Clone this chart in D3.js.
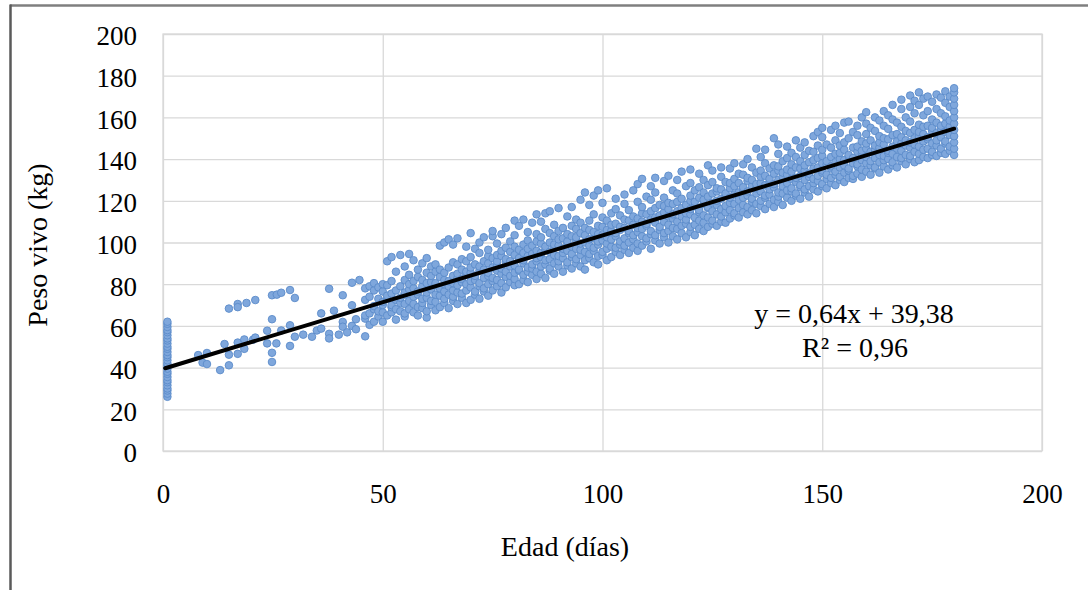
<!DOCTYPE html>
<html>
<head>
<meta charset="utf-8">
<script src="https://cdn.jsdelivr.net/npm/d3@7/dist/d3.min.js"></script>
<style>
    body { margin: 0; background: #fff; }
    svg { display: block; }
    text { font-family: "Liberation Serif", "Times New Roman", serif; fill: #000; }
</style>
</head>
<body>
<div id="chart"></div>
<script>
// Peso vivo vs edad — dispersión + tendencia lineal

const xTicks = [0, 50, 100, 150, 200];
const yTicks = [0, 20, 40, 60, 80, 100, 120, 140, 160, 180, 200];

// columna de animales al nacimiento (día 1)
const pesoDia1 = [26, 27.5, 29, 30, 31.5, 33, 34, 35.5, 37, 38, 39.5, 41, 42, 43.5, 45, 46, 47.5, 49, 50,
    51.5, 53, 54, 55.5, 57, 58, 59.5, 61, 62];

// puntos sueltos de 7 a 45 días [edad, peso]
const puntosIniciales = [
    [8, 46], [9, 42.4], [10, 47], [10, 41.7], [13, 38.8], [14, 51.3], [15, 68.3], [15, 46.2], [15, 41.1],
    [17, 70.5], [17, 69], [17, 52], [17, 46.6], [18.5, 53.5], [18.5, 49], [19, 71], [20.5, 53.4], [21, 72.4],
    [21, 54.4], [23.7, 57.7], [23.7, 51.6], [24.8, 74.7], [24.8, 63.2], [24.8, 47.1], [24.8, 42.7], [25.9, 75],
    [25.8, 51.6], [26.9, 75.9], [26.9, 57.8], [28.9, 77.2], [28.9, 60.3], [28.9, 50.4], [30, 73.4], [30, 54.8],
    [31.9, 55.8], [33.9, 54.8], [35, 57.8], [36, 66], [36, 58.7], [37.8, 77.8], [37.8, 56.2], [37.8, 54],
    [38.9, 67.3], [40, 55.8], [40.9, 74.7], [40.9, 61.9], [40.9, 59.6], [41.9, 56.9], [43, 80.7], [43, 69.9],
    [43, 60], [43.9, 63.2], [43.9, 58.4], [44.7, 82]
];

// 46 a 180 días: [edad, [pesos]]
const columnasDias = [
    [46, [55, 63.5, 65, 72.5, 78]],
    [47, [60.5, 66, 74, 79]],
    [48, [62, 68, 69.5, 77, 80.5]],
    [49, [64.5, 67, 73, 78.5]],
    [50, [62, 66.5, 70, 71.5, 76.5, 80]],
    [51, [65, 73, 74.5, 79.5, 91]],
    [52, [66.5, 69, 70, 75.5, 81.5, 93]],
    [53, [63, 68, 72.5, 77, 86]],
    [54, [67, 71, 73.5, 79, 94]],
    [55, [64.5, 66, 70.5, 75, 76, 82, 88.5]],
    [56, [68, 72, 77.5, 80, 84.5, 94.5]],
    [57, [66.5, 70.5, 74, 78, 81.5, 91.5]],
    [58, [65, 69, 75, 76.5, 83.5, 87]],
    [59, [68.5, 71, 73, 79, 82, 90]],
    [60, [64, 67, 73.5, 76, 80.5, 85.5, 92.5]],
    [61, [70, 72, 77.5, 81, 84, 88.5]],
    [62, [67.5, 71.5, 75, 79.5, 80.5, 86, 89.5]],
    [63, [69, 74.5, 78, 83.5, 87, 98.5]],
    [64, [71, 73, 76.5, 80, 82, 85.5, 100]],
    [65, [68.5, 75, 79, 81.5, 88, 101.5]],
    [66, [72, 74, 77, 80.5, 84, 90.5, 99]],
    [67, [70.5, 76, 79.5, 83, 85, 89.5, 102]],
    [68, [73.5, 75.5, 81, 82.5, 87, 92]],
    [69, [71, 77, 80, 84.5, 86, 91, 98]],
    [70, [72.5, 78.5, 81.5, 85.5, 88, 93, 104.5]],
    [71, [75, 76.5, 82, 84, 89.5, 97]],
    [72, [73, 79, 80.5, 86.5, 88.5, 95, 100]],
    [73, [76.5, 78, 83, 87, 91, 102.5]],
    [74, [74.5, 80, 84, 85.5, 90, 93.5, 96.5]],
    [75, [77, 81.5, 83, 88, 92.5, 103, 105.5]],
    [76, [79, 82, 86.5, 89, 91, 94, 99.5]],
    [77, [76, 80.5, 85, 87.5, 93.5, 96, 104]],
    [78, [78.5, 83.5, 86, 90.5, 92, 97.5, 107]],
    [79, [81, 84, 88.5, 91, 95.5, 100.5]],
    [80, [79.5, 82.5, 85.5, 89, 94, 98, 103.5, 110.5]],
    [81, [80, 86.5, 87, 92.5, 96.5, 108]],
    [82, [82, 84.5, 90, 91.5, 95, 99, 111]],
    [83, [81, 86, 88, 93.5, 97, 101, 105]],
    [84, [84.5, 87.5, 89.5, 94.5, 98.5, 109.5]],
    [85, [82.5, 86, 91, 92.5, 96, 100.5, 104, 113.5]],
    [86, [85, 88.5, 93, 95, 99.5, 102.5, 110]],
    [87, [83, 89.5, 91.5, 96.5, 98, 106.5, 114]],
    [88, [86.5, 87.5, 92, 95.5, 100, 104.5, 115]],
    [89, [85, 90, 94, 97.5, 99, 103, 108.5]],
    [90, [88.5, 91, 93.5, 98.5, 101.5, 105.5, 116.5]],
    [91, [86, 92.5, 95, 97, 102, 107]],
    [92, [89, 90.5, 96, 99.5, 100.5, 104, 112.5]],
    [93, [87.5, 93, 94.5, 98, 103, 108, 117]],
    [94, [90, 92, 97, 101, 102.5, 106.5, 111]],
    [95, [88.5, 94, 96.5, 99.5, 104.5, 109.5, 120.5]],
    [96, [87, 91.5, 95.5, 100, 103.5, 107, 124]],
    [97, [92.5, 94.5, 98.5, 101.5, 106, 110.5, 118]],
    [98, [90.5, 96, 97.5, 102, 105, 113.5, 122.5]],
    [99, [89.5, 93.5, 99, 100.5, 104, 108, 125]],
    [100, [94, 95.5, 101, 103.5, 107.5, 112, 119]],
    [101, [91.5, 97, 99.5, 102.5, 106, 110.5, 126]],
    [102, [93, 98, 101.5, 105.5, 108.5, 114]],
    [103, [95.5, 97.5, 103, 104.5, 109, 116, 121]],
    [104, [94, 99, 100.5, 106, 107.5, 113]],
    [105, [96.5, 98.5, 102, 107, 111, 118.5, 123]],
    [106, [95, 100, 104.5, 105.5, 110.5, 115.5]],
    [107, [97.5, 101.5, 103.5, 108.5, 112.5, 125]],
    [108, [96, 99.5, 105, 107, 111.5, 119.5, 128]],
    [109, [98.5, 103, 106.5, 110, 114, 117, 130.5]],
    [110, [100.5, 102, 108, 109, 113.5, 122]],
    [111, [97, 104, 105.5, 111, 115, 120.5, 127]],
    [112, [101, 103.5, 109.5, 112, 116.5, 124, 131]],
    [113, [99.5, 106, 107.5, 113, 118]],
    [114, [102.5, 104.5, 110, 114.5, 117.5, 121.5, 129.5]],
    [115, [100, 105.5, 108.5, 112.5, 116, 119, 132]],
    [116, [103, 107, 111.5, 113.5, 118.5, 125]],
    [117, [101.5, 106.5, 110, 115, 119.5, 123.5, 130]],
    [118, [104.5, 108, 112.5, 116.5, 121, 134]],
    [119, [102.5, 109, 111, 114, 118, 127]],
    [120, [105, 107.5, 113.5, 116, 120, 122.5, 128.5, 135]],
    [121, [103.5, 108.5, 112, 117.5, 119.5, 125]],
    [122, [106.5, 110.5, 114.5, 115.5, 121.5, 126.5, 133]],
    [123, [105.5, 109.5, 113, 118.5, 120.5, 124, 130]],
    [124, [107.5, 112, 116.5, 117, 122, 127.5, 137]],
    [125, [109, 110.5, 115, 119, 123.5, 129, 134.5]],
    [126, [108, 113.5, 118, 120, 124.5, 126]],
    [127, [110, 112.5, 116, 121, 125.5, 131.5, 136]],
    [128, [109.5, 114.5, 117.5, 122.5, 123.5, 129]],
    [129, [111.5, 115.5, 119, 121.5, 126, 128.5, 135.5]],
    [130, [113, 114, 118.5, 123, 127, 130.5, 138]],
    [131, [112, 116.5, 120.5, 124, 128.5, 133]],
    [132, [114.5, 118, 121.5, 125.5, 126.5, 132.5, 137.5]],
    [133, [113.5, 117, 122.5, 124.5, 129.5, 131, 140]],
    [134, [115.5, 119.5, 121, 127, 130, 136]],
    [135, [114, 118.5, 123.5, 126, 128, 133.5, 145]],
    [136, [117.5, 120, 124.5, 128.5, 131.5, 134.5, 141]],
    [137, [116, 121.5, 122.5, 127.5, 132, 138, 144.5]],
    [138, [118.5, 123, 125.5, 129, 130.5, 135.5]],
    [139, [117, 120.5, 126.5, 128, 133, 137, 150]],
    [140, [119.5, 122, 124, 130, 134.5, 136.5, 142.5, 147]],
    [141, [118, 123.5, 127, 131.5, 133.5, 139]],
    [142, [121.5, 125, 128.5, 132.5, 135, 140.5, 146]],
    [143, [120, 124.5, 126, 130.5, 134, 137.5, 143]],
    [144, [122.5, 123.5, 129, 131, 136, 141, 149]],
    [145, [121, 126.5, 127.5, 132, 135.5, 139, 145.5]],
    [146, [124, 125.5, 130, 134.5, 137, 142, 148]],
    [147, [122, 127, 131.5, 133, 138.5, 144]],
    [148, [125.5, 128.5, 130.5, 135.5, 139.5, 143.5, 151]],
    [149, [124.5, 129.5, 132, 136, 140.5, 146.5, 153]],
    [150, [127, 128, 133.5, 134.5, 138, 141.5, 144.5, 150.5, 155]],
    [151, [126, 130.5, 132.5, 137.5, 139, 147]],
    [152, [128.5, 131, 135.5, 136.5, 141, 145.5, 154]],
    [153, [127.5, 132.5, 134, 138.5, 142.5, 149, 156]],
    [154, [130, 131.5, 136, 140, 143, 146.5, 152.5]],
    [155, [129, 133.5, 137, 139.5, 144.5, 148, 157.5]],
    [156, [131, 134.5, 135.5, 141.5, 142, 150, 158]],
    [157, [130.5, 132, 138, 140.5, 145.5, 153]],
    [158, [133, 136.5, 137.5, 143.5, 146, 151.5, 156]],
    [159, [131.5, 135, 139.5, 142.5, 144, 148.5, 160]],
    [160, [134, 138, 141, 145, 147.5, 152, 157, 162.5]],
    [161, [132.5, 137, 139, 143.5, 149, 155]],
    [162, [135.5, 136, 140.5, 144.5, 146.5, 153.5, 160]],
    [163, [133.5, 138.5, 142, 145.5, 148, 151, 158.5]],
    [164, [136.5, 139.5, 141.5, 147, 150, 156, 163]],
    [165, [135, 140, 143, 144, 149.5, 154.5, 161]],
    [166, [137, 138.5, 142.5, 146, 151.5, 159, 166]],
    [167, [136, 141, 145, 148.5, 152, 157.5]],
    [168, [139, 140.5, 144, 147.5, 150.5, 155.5, 164, 168.5]],
    [169, [137.5, 142, 146.5, 149, 153.5, 160]],
    [170, [140, 141.5, 145.5, 148, 152.5, 158, 165, 170.5]],
    [171, [138.5, 143.5, 147, 150, 154, 162, 168]],
    [172, [139.5, 142.5, 146, 151, 153, 156.5, 166, 172]],
    [173, [141, 144.5, 148.5, 152, 155.5, 161, 169]],
    [174, [140.5, 145, 149.5, 150.5, 156, 163, 170]],
    [175, [142, 143.5, 147.5, 153.5, 155, 159, 167.5]],
    [176, [141.5, 146.5, 149, 152.5, 157.5, 164, 171]],
    [177, [143, 145, 150.5, 154.5, 156, 162, 169.5]],
    [178, [142.5, 147.5, 148.5, 153, 157, 160.5, 167, 172.5]],
    [179, [144, 146, 151.5, 155.5, 158.5, 165, 170]],
    [180, [142, 145, 148, 151, 154, 157, 160, 163, 166, 169, 172, 174]]
];

// tendencia lineal (Excel)
const pendiente = 0.64;
const intercepto = 39.38;
const rangoTendencia = [0.5, 180];

const width = 1088;
const height = 590;
const plot = { left: 163, right: 1042, top: 34, bottom: 451 };

const puntos = [
    ...pesoDia1.map((p) => [1, p]),
    ...puntosIniciales,
    ...columnasDias.flatMap(([dia, pesos]) => pesos.map((p) => [dia, p]))
];

const svg = d3.select('#chart')
    .append('svg')
    .attr('width', width)
    .attr('height', height);

// marco exterior
svg.append('line')
    .attr('x1', 10).attr('x2', width).attr('y1', 5.5).attr('y2', 5.5)
    .attr('stroke', '#7f7f7f').attr('stroke-width', 2.5);
svg.append('line')
    .attr('x1', 10.5).attr('x2', 10.5).attr('y1', 4.5).attr('y2', height)
    .attr('stroke', '#5a5a5a').attr('stroke-width', 2.5);

const x = d3.scaleLinear().domain([0, 200]).range([plot.left, plot.right]);
const y = d3.scaleLinear().domain([0, 200]).range([plot.bottom, plot.top]);

const fontSize = 27;

const yAxis = svg.append('g')
    .attr('transform', `translate(${plot.left},0)`)
    .call(d3.axisLeft(y).tickValues(yTicks).tickFormat(d3.format('d'))
        .tickSizeInner(-(plot.right - plot.left)).tickSizeOuter(0).tickPadding(26));
yAxis.select('.domain').remove();
yAxis.selectAll('.tick line').attr('stroke', '#d9d9d9').attr('stroke-width', 1.3);
yAxis.selectAll('.tick text')
    .attr('font-family', '"Liberation Serif", serif')
    .attr('font-size', fontSize)
    .attr('dy', '0.4em');

const xAxis = svg.append('g')
    .attr('transform', `translate(0,${plot.bottom})`)
    .call(d3.axisBottom(x).tickValues(xTicks).tickFormat(d3.format('d'))
        .tickSizeInner(-(plot.bottom - plot.top)).tickSizeOuter(0).tickPadding(33));
xAxis.select('.domain').remove();
xAxis.selectAll('.tick line').attr('stroke', '#d9d9d9').attr('stroke-width', 1.3);
xAxis.selectAll('.tick text')
    .attr('font-family', '"Liberation Serif", serif')
    .attr('font-size', fontSize);

// borde del área de trazado
svg.append('rect')
    .attr('x', plot.left).attr('y', plot.top)
    .attr('width', plot.right - plot.left).attr('height', plot.bottom - plot.top)
    .attr('fill', 'none').attr('stroke', '#d9d9d9').attr('stroke-width', 1.3);

svg.append('g')
    .selectAll('circle')
    .data(puntos)
    .enter()
    .append('circle')
    .attr('cx', (d) => x(d[0]))
    .attr('cy', (d) => y(d[1]))
    .attr('r', 3.8)
    .attr('fill', '#7fa7dc')
    .attr('stroke', '#5b8bca')
    .attr('stroke-width', 0.9);

const linea = d3.line().x((d) => x(d)).y((d) => y(pendiente * d + intercepto));
svg.append('path')
    .datum(rangoTendencia)
    .attr('d', linea)
    .attr('fill', 'none')
    .attr('stroke', '#000')
    .attr('stroke-width', 4)
    .attr('stroke-linecap', 'round');

svg.append('text')
    .attr('x', 854).attr('y', 323)
    .attr('text-anchor', 'middle')
    .attr('font-size', 28)
    .text('y = 0,64x + 39,38');
svg.append('text')
    .attr('x', 855).attr('y', 357)
    .attr('text-anchor', 'middle')
    .attr('font-size', 28)
    .text('R² = 0,96');

svg.append('text')
    .attr('x', 565).attr('y', 556)
    .attr('text-anchor', 'middle')
    .attr('font-size', 28)
    .text('Edad (días)');
svg.append('text')
    .attr('transform', 'translate(47,245) rotate(-90)')
    .attr('text-anchor', 'middle')
    .attr('font-size', 28)
    .text('Peso vivo (kg)');
</script>
</body>
</html>
